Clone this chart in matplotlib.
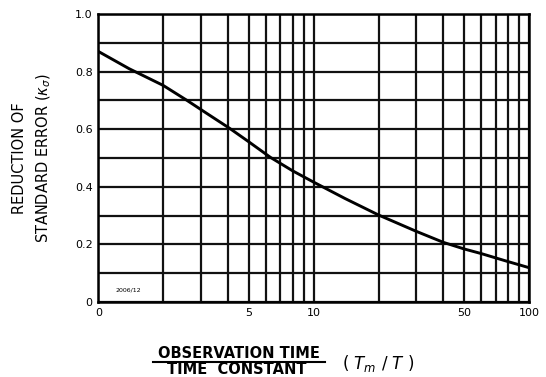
import matplotlib
matplotlib.use("Agg")
import matplotlib.pyplot as plt
from matplotlib.lines import Line2D
from matplotlib.ticker import FixedLocator, NullFormatter

# curve: Tm/T vs reduction of standard error
ratio = [1, 1.39, 2, 2.58, 3.2, 4.07, 5, 6.3, 8, 10, 14, 20, 30, 40, 50,
         60, 70, 80, 90, 100]
reduction = [0.870, 0.810, 0.752, 0.700, 0.654, 0.603, 0.556, 0.502, 0.455,
             0.416, 0.359, 0.302, 0.245, 0.207, 0.184, 0.168, 0.153, 0.140,
             0.129, 0.119]

x_ticks = [1, 5, 10, 50, 100]
x_labels = ["0", "5", "10", "50", "100"]
y_ticks = [0, 0.2, 0.4, 0.6, 0.8, 1.0]
y_labels = ["0", "0.2", "0.4", "0.6", "0.8", "1.0"]
x_grid = [1, 2, 3, 4, 5, 6, 7, 8, 9, 10, 20, 30, 40, 50, 60, 70, 80, 90, 100]
y_grid = [0, 0.1, 0.2, 0.3, 0.4, 0.5, 0.6, 0.7, 0.8, 0.9, 1.0]

plt.rcParams['font.family'] = ['DejaVu Sans']

fig = plt.figure(figsize=(5.46, 3.77), dpi=100)
ax = fig.add_axes([0.18, 0.199, 0.789, 0.764])

ax.set_xscale('log')
ax.set_xlim(1, 100)
ax.set_ylim(0, 1.0)

for gx in x_grid:
    ax.axvline(gx, color='#111111', lw=1.6, zorder=1)
for gy in y_grid:
    ax.axhline(gy, color='#111111', lw=1.6, zorder=1)

ax.plot(ratio, reduction, color='black', lw=2.1, zorder=3)

ax.xaxis.set_major_locator(FixedLocator(x_ticks))
ax.set_xticklabels(x_labels)
ax.xaxis.set_minor_formatter(NullFormatter())
ax.set_yticks(y_ticks)
ax.set_yticklabels(y_labels)
ax.tick_params(which='both', length=0, labelsize=8, pad=4)

for s in ax.spines.values():
    s.set_linewidth(1.8)

ax.text(1.2, 0.035, "2006/12", fontsize=4.5, zorder=4)

ax.set_ylabel("REDUCTION OF\nSTANDARD ERROR ($\\kappa_\\sigma$)", fontsize=10.5,
              labelpad=16, linespacing=1.55)

# fraction-style x label
fig.text(239 / 546, 1 - 353 / 377, "OBSERVATION TIME", ha='center', va='center',
         fontsize=10.5, fontweight='bold')
fig.add_artist(Line2D([153 / 546, 325 / 546], [1 - 361.5 / 377, 1 - 361.5 / 377],
                      color='black', lw=1.5, transform=fig.transFigure))
fig.text(237 / 546, 1 - 370 / 377, "TIME  CONSTANT", ha='center', va='center',
         fontsize=10.5, fontweight='bold')
fig.text(378 / 546, 1 - 363 / 377, "( $T_m$ / $T$ )", ha='center', va='center',
         fontsize=12)

fig.savefig("out.png", dpi=100)
